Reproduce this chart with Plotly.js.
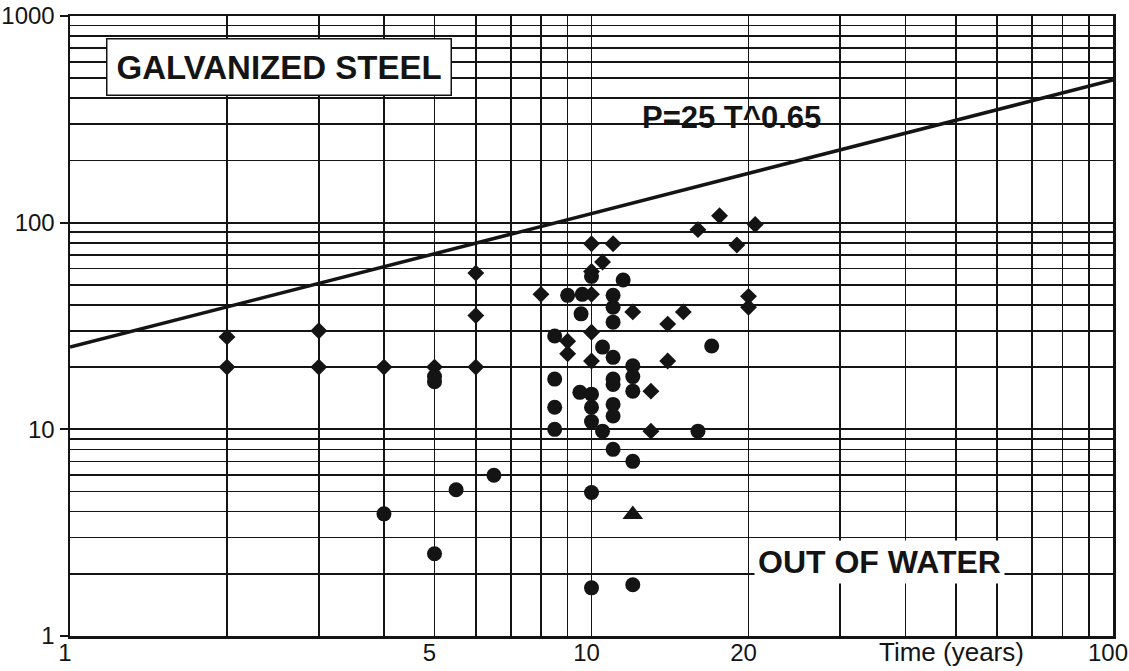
<!DOCTYPE html>
<html>
<head>
<meta charset="utf-8">
<script src="https://cdn.plot.ly/plotly-3.0.1.min.js"></script>
<style>html,body{margin:0;padding:0;background:#fff;}#chart{width:1129px;height:671px;}</style>
</head>
<body>
<div id="chart"></div>
<script>
// Diamond-marked observations (Time in years, pit depth)
var diamondT = [2, 2, 3, 3, 4, 5, 6, 6, 6, 8, 9, 9, 10, 10, 10, 10, 10, 11, 10.5, 12, 13, 13, 14, 14, 15, 16, 17.6, 19, 20, 20, 20.6];
var diamondP = [28, 20, 30, 20, 20, 20, 57, 35.5, 20, 45, 26.7, 23.2, 79, 58, 45, 29.5, 21.4, 79, 64.5, 37, 15.3, 9.8, 32.3, 21.4, 37, 92.5, 108, 78, 44, 39, 98];

// Circle-marked observations
var circleT = [4, 5, 5, 5, 5.5, 6.5, 8.5, 8.5, 8.5, 8.5, 9, 9.6, 9.55, 9.5, 10, 10, 10, 10, 10, 10, 10.5, 10.5, 11.5, 11, 11, 11, 11, 11, 11, 11, 11, 11, 12, 12, 12, 12, 12, 16, 17];
var circleP = [3.9, 18, 17, 2.5, 5.1, 6.0, 28.3, 17.5, 12.8, 10, 44.5, 45, 36.2, 15.1, 55, 14.8, 12.8, 10.9, 4.95, 1.71, 25, 9.8, 52.8, 44.5, 39, 33, 22.3, 17.5, 16.5, 13.2, 11.6, 8, 20.3, 18, 15.3, 7.0, 1.77, 9.8, 25.3];

// Triangle-marked observation
var triangleT = [12];
var triangleP = [3.87];

// Fit line P = 25 T^0.65 (end points)
var fitT = [1, 100];
var fitP = [25, 490];

// Axis ticks
var xGridVals = [1, 2, 3, 4, 5, 6, 7, 8, 9, 10, 20, 30, 40, 50, 60, 70, 80, 90, 100];
var xTickVals = [1, 5, 10, 20, 100];
var xTickText = ['1', '5', '10', '20', '100'];
var yMinorVals = [2, 3, 4, 5, 6, 7, 8, 9, 20, 30, 40, 50, 60, 70, 80, 90, 200, 300, 400, 500, 600, 700, 800, 900];
var yTickVals = [1, 10, 100, 1000];
var yTickText = ['1', '10', '100', '1000'];

var ink = '#141414';

var traces = [
  {x: fitT, y: fitP, mode: 'lines', line: {color: ink, width: 3.5}, hoverinfo: 'skip'},
  {x: diamondT, y: diamondP, mode: 'markers', marker: {symbol: 'diamond', size: 13, color: ink}},
  {x: circleT, y: circleP, mode: 'markers', marker: {symbol: 'circle', size: 15, color: ink}},
  {x: triangleT, y: triangleP, mode: 'markers', marker: {symbol: 'triangle-up', size: 18, color: ink}}
];

var layout = {
  width: 1129, height: 671,
  margin: {l: 70, r: 16, t: 16, b: 35},
  paper_bgcolor: '#fff', plot_bgcolor: '#fff',
  showlegend: false,
  font: {family: 'Liberation Sans, Arial, sans-serif', color: ink},
  xaxis: {
    type: 'log', range: [0, 2],
    tickmode: 'array', tickvals: xTickVals, ticktext: xTickText,
    tickfont: {size: 24, color: ink},
    ticklabeloverflow: 'allow', ticklabelshift: -5, ticklabelstandoff: -6,
    showgrid: true, gridcolor: ink, gridwidth: 1.8,
    minor: {tickmode: 'array', tickvals: xGridVals, showgrid: true, gridcolor: ink, gridwidth: 1.7, ticks: ''},
    showline: true, linecolor: ink, linewidth: 2.5, mirror: true,
    ticks: '', zeroline: false
  },
  yaxis: {
    type: 'log', range: [0, 3],
    tickmode: 'array', tickvals: yTickVals, ticktext: yTickText,
    tickfont: {size: 24, color: ink},
    showgrid: true, gridcolor: ink, gridwidth: 2,
    minor: {tickmode: 'array', tickvals: yMinorVals, showgrid: true, gridcolor: ink, gridwidth: 1.7, ticks: ''},
    showline: true, linecolor: ink, linewidth: 2.5, mirror: true,
    ticks: 'outside', ticklen: 8, tickwidth: 2, tickcolor: ink, zeroline: false
  },
  annotations: [
    {xref: 'paper', yref: 'paper', x: 0.2004, y: 0.9177, xanchor: 'center', yanchor: 'middle',
     text: '<b>GALVANIZED STEEL</b>', showarrow: false,
     font: {size: 33, family: 'Liberation Sans, Arial, sans-serif', color: ink},
     bgcolor: '#fff', bordercolor: ink, borderwidth: 1.5, borderpad: 9},
    {xref: 'paper', yref: 'paper', x: 0.6347, y: 0.8355, xanchor: 'center', yanchor: 'middle',
     text: '<b>P=25 T^0.65</b>', showarrow: false,
     font: {size: 31, family: 'Liberation Sans, Arial, sans-serif', color: ink}},
    {xref: 'paper', yref: 'paper', x: 0.7766, y: 0.1194, xanchor: 'center', yanchor: 'middle',
     text: '<b>OUT OF WATER</b>', showarrow: false,
     font: {size: 32, family: 'Liberation Sans, Arial, sans-serif', color: ink},
     bgcolor: '#fff', borderpad: 3},
    {xref: 'paper', yref: 'paper', x: 0.8447, y: -0.0258, xanchor: 'center', yanchor: 'middle',
     text: 'Time (years)', showarrow: false,
     font: {size: 26, family: 'Liberation Sans, Arial, sans-serif', color: ink}}
  ]
};

Plotly.newPlot('chart', traces, layout, {displayModeBar: false, staticPlot: true});
</script>
</body>
</html>
